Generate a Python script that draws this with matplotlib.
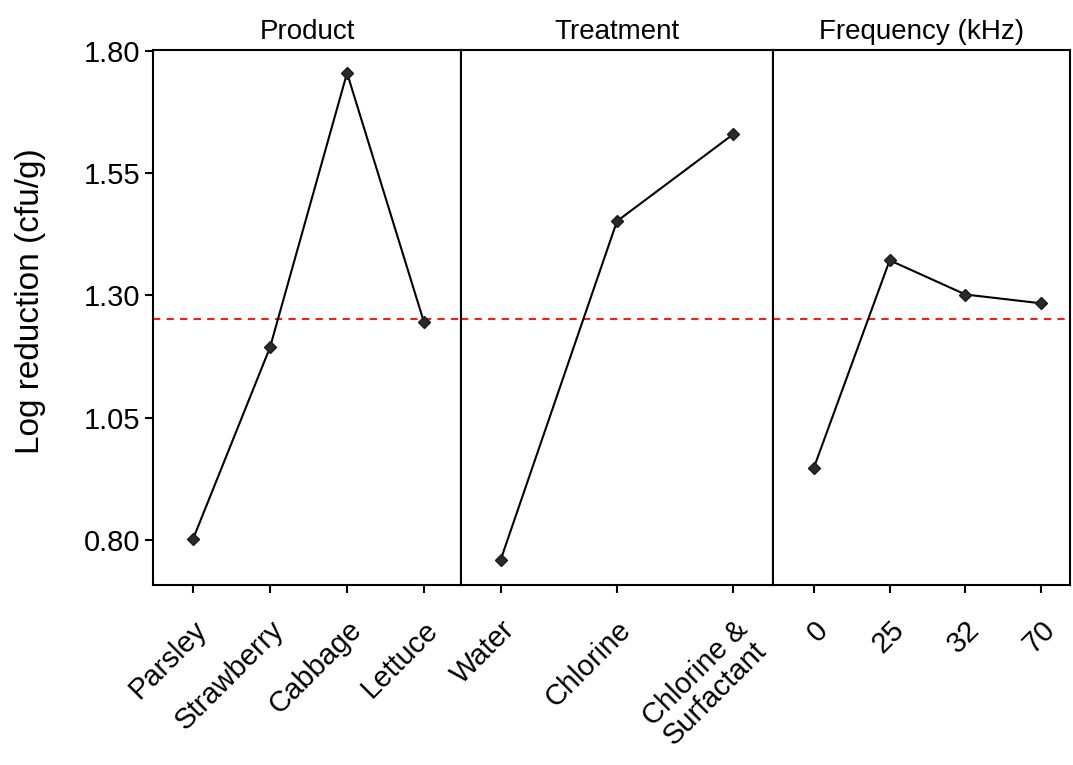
import matplotlib
matplotlib.use("Agg")
import matplotlib.pyplot as plt

plt.rcParams['font.family'] = ['Liberation Sans', 'DejaVu Sans']

# Data
product_labels = ["Parsley", "Strawberry", "Cabbage", "Lettuce"]
product_values = [0.802, 1.194, 1.755, 1.245]
treatment_labels = ["Water", "Chlorine", "Chlorine &\nSurfactant"]
treatment_values = [0.759, 1.452, 1.630]
freq_labels = ["0", "25", "32", "70"]
freq_values = [0.948, 1.372, 1.302, 1.284]
panel_titles = ["Product", "Treatment", "Frequency (kHz)"]
grand_mean = 1.251
y_ticks = [0.80, 1.05, 1.30, 1.55, 1.80]

fig = plt.figure(figsize=(10.73, 7.65), dpi=100)
left, right = 153/1073, 1070/1073
bottom, top = 1 - 585/765, 1 - 50/765
widths = [308, 312, 297]
total = sum(widths)
xlims = [(-0.52, 3.48), (-0.34, 2.34), (-0.54, 3.38)]
panels = [(product_labels, product_values), (treatment_labels, treatment_values), (freq_labels, freq_values)]

x0 = left
for i, ((labels, vals), w) in enumerate(zip(panels, widths)):
    fw = (right - left) * w / total
    ax = fig.add_axes([x0, bottom, fw, top - bottom])
    x0 += fw
    xs = list(range(len(vals)))
    ax.plot(xs, vals, color='black', lw=1.5, marker='D', ms=6,
            markerfacecolor='#2a2a2a', markeredgecolor='#1a1a1a', zorder=3)
    ax.axhline(grand_mean, color='#ff1a1a', lw=1.5, ls=(0, (3.5, 3)), zorder=2)
    ax.set_xlim(*xlims[i])
    ax.set_ylim(0.708, 1.802)
    ax.set_xticks(xs)
    ax.set_xticklabels(labels, rotation=45, ha='right', rotation_mode='anchor',
                       fontsize=21, multialignment='center', linespacing=1.0)
    ax.tick_params(axis='x', direction='out', length=6, width=1.5, pad=16)
    for sp in ax.spines.values():
        sp.set_linewidth(1.5)
    if i == 0:
        ax.set_yticks(y_ticks)
        ax.set_yticklabels([f"{v:.2f}" for v in y_ticks], fontsize=21)
        ax.tick_params(axis='y', direction='out', length=6, width=1.5, pad=3)
        ax.set_ylabel("Log reduction (cfu/g)", fontsize=24)
        ax.yaxis.set_label_coords(46 / 1073, 1 - 301 / 765, transform=fig.transFigure)
    else:
        ax.set_yticks([])
    ax.set_title(panel_titles[i], fontsize=20, pad=8)

fig.savefig("out.png", dpi=100)
